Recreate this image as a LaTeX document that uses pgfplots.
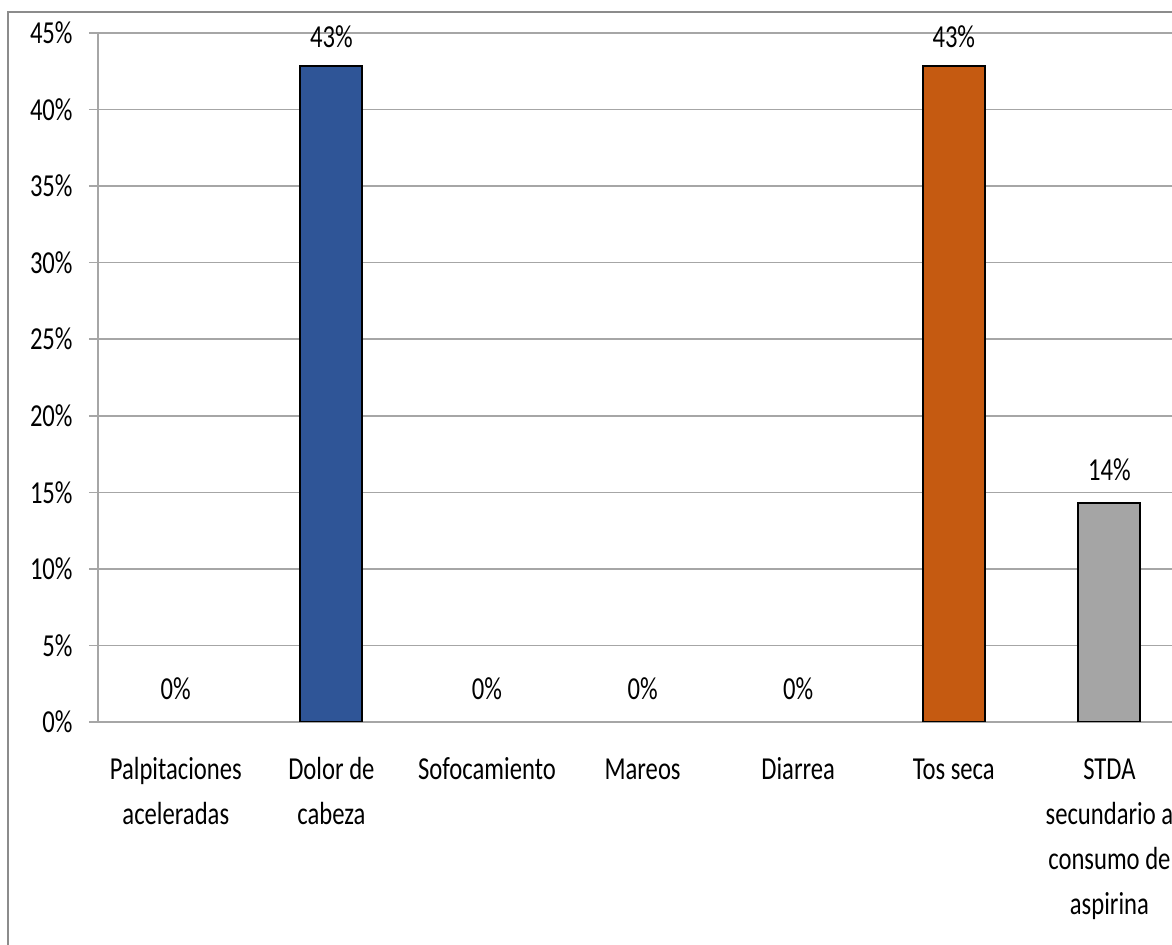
\documentclass[border=0pt]{standalone}
\usepackage{pgfplots}
\pgfplotsset{compat=1.18}
\usepackage{fontspec}
\setmainfont[FakeStretch=0.77]{Carlito}
\definecolor{barblue}{HTML}{2F5597}
\definecolor{barorange}{HTML}{C55A11}
\definecolor{bargray}{HTML}{A5A5A5}
\definecolor{gridgray}{HTML}{A6A6A6}
\definecolor{framegray}{HTML}{8C8C8C}
\newcommand{\chartfont}{\fontsize{16}{22.5}\selectfont}
\newcommand{\fl}{\rule{0pt}{11.5pt}}
\begin{document}
\begin{tikzpicture}
\useasboundingbox (-49pt,-111.5pt) rectangle (537pt,361pt);
\clip (-49pt,-111.5pt) rectangle (537pt,361pt);
\draw[framegray, line width=0.6pt] (-45pt,-300pt) rectangle (700pt,355pt);
\begin{axis}[
  at={(0,0)}, anchor=south west,
  scale only axis, width=544.6pt, height=344.5pt,
  xmin=-0.5, xmax=6.5, ymin=0, ymax=45,
  axis lines*=left,
  axis line style={gridgray, line width=0.75pt},
  tick align=outside,
  ytick={0,5,...,45},
  yticklabel={\pgfmathprintnumber{\tick}\%},
  /pgf/number format/assume math mode=true,
  ymajorgrids,
  grid style={gridgray, line width=0.75pt},
  major tick length=4.5pt,
  minor tick length=5.5pt,
  ytick style={gridgray, line width=0.75pt},
  xtick={0,1,2,3,4,5,6},
  xtick style={draw=none},
  minor xtick={-0.5,0.5,1.5,2.5,3.5,4.5,5.5,6.5},
  minor x tick style={gridgray, line width=0.75pt},
  xticklabels={{\fl Palpitaciones\\aceleradas},{\fl Dolor de\\cabeza},{\fl Sofocamiento},{\fl Mareos},{\fl Diarrea},{\fl Tos seca},{\fl STDA\\secundario a\\consumo de\\aspirina}},
  xticklabel style={align=center, anchor=north, inner sep=0pt, font=\chartfont, text=black, yshift=-12.5pt},
  yticklabel style={anchor=east, inner sep=0pt, font=\chartfont, text=black, xshift=-8pt},
  nodes near coords={\pgfmathprintnumber[fixed,precision=0]{\pgfplotspointmeta}\%},
  nodes near coords style={anchor=base, inner sep=0pt, font=\chartfont, text=black},
]
\addplot[ybar, bar shift=0pt, bar width=31pt, draw=none, fill=none,
  nodes near coords style={yshift=11pt}] coordinates {(0,0) (2,0) (3,0) (4,0)};
\addplot[ybar, bar shift=0pt, bar width=31pt, draw=black, line width=1pt, fill=barblue,
  nodes near coords style={yshift=9.2pt}] coordinates {(1,42.86)};
\addplot[ybar, bar shift=0pt, bar width=31pt, draw=black, line width=1pt, fill=barorange,
  nodes near coords style={yshift=9.2pt}] coordinates {(5,42.86)};
\addplot[ybar, bar shift=0pt, bar width=31pt, draw=black, line width=1pt, fill=bargray,
  nodes near coords style={yshift=11.3pt}] coordinates {(6,14.29)};
\end{axis}
\end{tikzpicture}
\end{document}
